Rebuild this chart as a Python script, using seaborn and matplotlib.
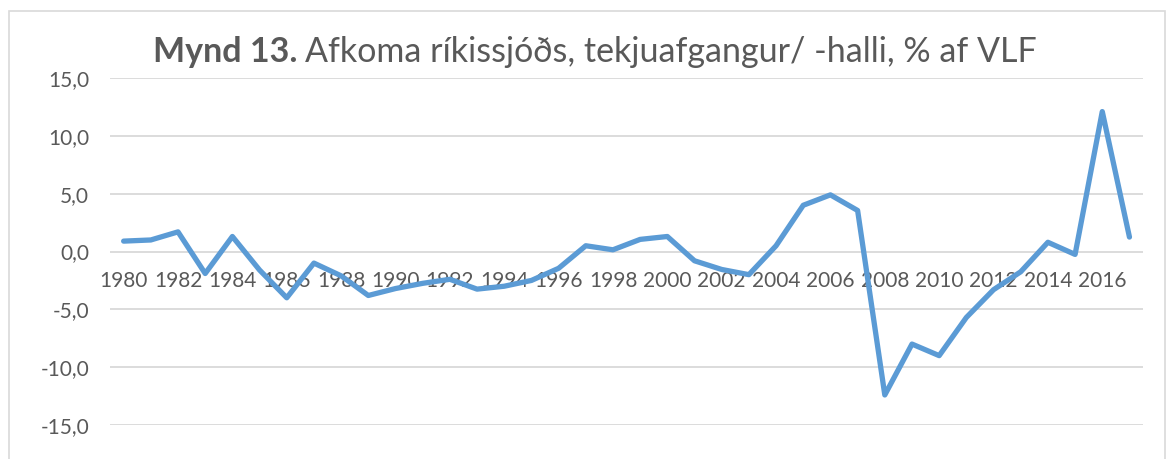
import pandas as pd
import matplotlib.pyplot as plt
import seaborn as sns
from matplotlib.patches import Rectangle
from matplotlib.ticker import FuncFormatter

years = list(range(1980, 2018))
balance = [0.9, 1.0, 1.7, -1.9, 1.3, -1.6, -4.0, -1.0, -2.1, -3.8,
           -3.2, -2.75, -2.4, -3.25, -3.0, -2.5, -1.45, 0.5, 0.15, 1.05,
           1.3, -0.8, -1.55, -2.0, 0.5, 4.0, 4.9, 3.55, -12.4, -8.0,
           -9.0, -5.7, -3.3, -1.75, 0.8, -0.25, 12.1, 1.25]
xtick_years = list(range(1980, 2017, 2))
ytick_vals = [-15, -10, -5, 0, 5, 10, 15]

df = pd.DataFrame({"YEAR": years, "BALANCE": balance})

sns.set_style("white")
plt.rcParams["font.family"] = ["Lato", "DejaVu Sans"]

fig = plt.figure(figsize=(11.72, 4.59), dpi=100)
ax = fig.add_axes([0.0939, 0.074, 0.8814, 0.756])

# chart frame (bottom edge falls outside the image)
fig.patches.append(Rectangle((9 / 1172, -0.05), 1156 / 1172, 1.05 - 11 / 459,
                             transform=fig.transFigure, fill=False,
                             edgecolor="#D9D9D9", linewidth=1.2))

sns.lineplot(data=df, x="YEAR", y="BALANCE", color="#5B9BD5", linewidth=3.8, ax=ax)

ax.set_xlim(1979.5, 2017.5)
ax.set_ylim(-15, 15)
ax.set_yticks(ytick_vals)
ax.yaxis.set_major_formatter(FuncFormatter(lambda v, p: f"{v:.1f}".replace(".", ",")))
ax.set_xticks(xtick_years)
ax.set_xticklabels([str(y) for y in xtick_years])
ax.grid(axis="y", color="#D9D9D9", linewidth=1.3)
ax.set_axisbelow(True)

for s in ["top", "right", "left"]:
    ax.spines[s].set_visible(False)
ax.spines["bottom"].set_position(("data", 0))
ax.spines["bottom"].set_visible(False)

ax.tick_params(axis="x", length=0, pad=14, labelsize=15, labelcolor="#595959")
ax.tick_params(axis="y", length=0, pad=15, labelsize=15, labelcolor="#595959")
ax.set_xlabel("")
ax.set_ylabel("")

# title: bold prefix + regular rest
t1 = fig.text(153 / 1172, 0.887, "Mynd 13.", ha="left", va="center",
              fontsize=24.5, fontweight="bold", color="#595959")
fig.canvas.draw()
bb = t1.get_window_extent()
x2 = bb.x1 / fig.bbox.width + 0.006
fig.text(x2, 0.887, "Afkoma ríkissjóðs, tekjuafgangur/ -halli, % af VLF",
         ha="left", va="center", fontsize=24.5, color="#595959")

plt.savefig("out.png", dpi=100)
plt.close()
